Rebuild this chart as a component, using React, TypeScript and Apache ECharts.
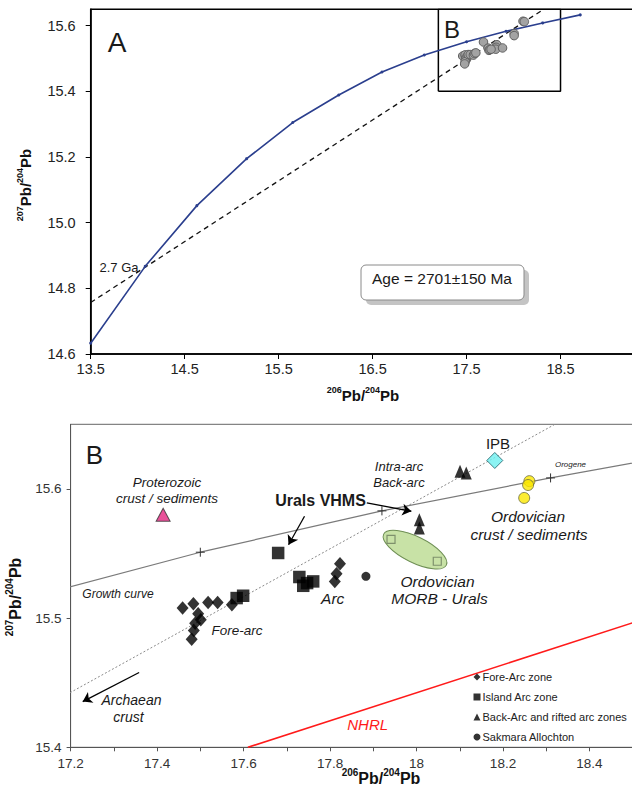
import React, { useEffect, useRef } from 'react';
import * as echarts from 'echarts';

// ---- data ----
const growthCurve = [
  [13.5, 14.633], [14.08, 14.867], [14.63, 15.052], [15.16, 15.195], [15.65, 15.305],
  [16.14, 15.389], [16.6, 15.459], [17.05, 15.511], [17.5, 15.551], [17.92, 15.583],
  [18.31, 15.6085], [18.71, 15.633],
];
const isochron = [[13.5, 14.757], [18.32, 15.65]];
const nhrl = [[17.61, 15.4], [18.5, 15.4964]];
const foreArc = [
  [17.459, 15.5078], [17.484, 15.5111], [17.495, 15.5033], [17.501, 15.4987],
  [17.488, 15.4961], [17.485, 15.4904], [17.48, 15.4837], [17.518, 15.5121],
  [17.54, 15.5121], [17.573, 15.5103], [17.823, 15.5421], [17.815, 15.5343],
  [17.811, 15.5284],
];
const islandArc = [
  [17.584, 15.5155], [17.599, 15.5173], [17.68, 15.5504], [17.729, 15.5318],
  [17.738, 15.525], [17.747, 15.5271], [17.761, 15.5284],
];
const backArc = [[18.1006, 15.6136], [18.115, 15.6124], [18.0065, 15.5762], [18.0065, 15.5698]];
const sakmara = [[17.883, 15.5323]];
const proterozoic = [[17.414, 15.58]];
const ipb = [[18.181, 15.622]];
const ordovicianCrust = [[18.261, 15.606], [18.258, 15.603], [18.249, 15.593]];
const ordovicianMorb = [[17.941, 15.561], [18.048, 15.544]];
const morbEllipseAxis = [[17.924, 15.565, 18.069, 15.541]];
const boxB = [[17.2, 15.4], [18.5, 15.4], [18.5, 15.65], [17.2, 15.65], [17.2, 15.4]];
const arrowsB = [
  [[17.3585, 15.4579], [17.228, 15.4354]],
  [[17.741, 15.5788], [17.704, 15.5568]],
  [[17.885, 15.5891], [17.988, 15.5827]],
];
const xTicksA = [13.5, 14.5, 15.5, 16.5, 17.5, 18.5];
const yTicksA = [14.6, 14.8, 15.0, 15.2, 15.4, 15.6];
const xTicksB = [17.2, 17.3, 17.4, 17.5, 17.6, 17.7, 17.8, 17.9, 18.0, 18.1, 18.2, 18.3, 18.4, 18.5];
const xLabelsB = [17.2, 17.4, 17.6, 17.8, 18, 18.2, 18.4];
const yTicksB = [15.4, 15.5, 15.6];

const SANS = "'Liberation Sans', Arial, sans-serif";

function txt(x: number, y: number, text: string, opts: any = {}) {
  return {
    type: 'text', x, y, z: 50,
    style: {
      text, fill: opts.color || '#1a1a1a', fontSize: opts.size || 13,
      fontStyle: opts.italic ? 'italic' : 'normal', fontWeight: opts.bold ? 'bold' : 'normal',
      fontFamily: opts.family || SANS, align: 'center', verticalAlign: 'middle',
    },
  };
}

function pbTitle(x: number, y: number, top: string, bottom: string, main: number, sup: number, rotate: boolean) {
  return {
    type: 'text', x, y, z: 50, rotation: rotate ? Math.PI / 2 : 0,
    style: {
      text: `{s|${top}}{m|Pb/}{s|${bottom}}{m|Pb}`,
      align: 'center', verticalAlign: 'middle',
      rich: {
        s: { fontSize: sup, fontWeight: 'bold', fontFamily: SANS, lineHeight: sup + 1, verticalAlign: 'top', fill: '#111' },
        m: { fontSize: main, fontWeight: 'bold', fontFamily: SANS, lineHeight: main + 3, verticalAlign: 'bottom', fill: '#111' },
      },
    },
  };
}

const PLUS = 'path://M0,5L10,5M5,0L5,10';

export default function App() {
  const ref = useRef<HTMLDivElement>(null);
  useEffect(() => {
    document.body.style.margin = '0';
    const chart = echarts.init(ref.current!, null, { renderer: 'svg' });
    const option: any = {
      animation: false,
      backgroundColor: '#fff',
      grid: [
        { left: 90.7, top: 9.3, width: 543.3, height: 344.7, show: true, borderColor: '#000', borderWidth: 1.5, backgroundColor: 'transparent', outerBoundsMode: 'none' },
        { left: 70.6, top: 424.3, width: 563, height: 323, show: true, borderColor: '#666', borderWidth: 1, backgroundColor: 'transparent', outerBoundsMode: 'none' },
      ],
      xAxis: [
        {
          type: 'value', gridIndex: 0, min: 13.5, max: 19.282,
          splitLine: { show: false },
          axisLine: { lineStyle: { color: '#000', width: 1.5 } },
          axisTick: { show: true, customValues: xTicksA, length: 5, lineStyle: { color: '#000' } },
          axisLabel: { customValues: xTicksA, margin: 7, fontSize: 14.5, fontFamily: SANS, color: '#222', formatter: (v: number) => v.toFixed(1) },
        },
        {
          type: 'value', gridIndex: 1, min: 17.2, max: 18.502,
          splitLine: { show: false },
          axisLine: { lineStyle: { color: '#555', width: 1 } },
          axisTick: { show: true, customValues: xTicksB, length: 4, lineStyle: { color: '#555' } },
          axisLabel: { customValues: xLabelsB, margin: 9, fontSize: 13.5, fontFamily: SANS, color: '#333', formatter: (v: number) => String(parseFloat(v.toFixed(1))) },
        },
      ],
      yAxis: [
        {
          type: 'value', gridIndex: 0, min: 14.6, max: 15.65,
          splitLine: { show: false },
          axisLine: { lineStyle: { color: '#000', width: 1.5 } },
          axisTick: { show: true, customValues: yTicksA, length: 5, lineStyle: { color: '#000' } },
          axisLabel: { customValues: yTicksA, margin: 15, fontSize: 14.5, fontFamily: SANS, color: '#222', formatter: (v: number) => v.toFixed(1) },
        },
        {
          type: 'value', gridIndex: 1, min: 15.4, max: 15.65,
          splitLine: { show: false },
          axisLine: { lineStyle: { color: '#555', width: 1 } },
          axisTick: { show: true, customValues: yTicksB, length: 4, lineStyle: { color: '#555' } },
          axisLabel: { customValues: yTicksB, margin: 9, fontSize: 13.5, fontFamily: SANS, color: '#333', formatter: (v: number) => v.toFixed(1) },
        },
      ],
      legend: {
        orient: 'vertical', left: 473.5, top: 667, itemWidth: 7, itemHeight: 7, itemGap: 0,
        selectedMode: false, padding: 0,
        textStyle: { fontSize: 11, fontFamily: SANS, color: '#222', lineHeight: 20, padding: [0, 0, 0, -3] },
        data: ['Fore-Arc zone', 'Island Arc zone', 'Back-Arc and rifted arc zones', 'Sakmara Allochton'],
      },
      series: [
        // ---- panel A ----
        {
          type: 'line', name: 'growthA', xAxisIndex: 0, yAxisIndex: 0, data: growthCurve,
          showAllSymbol: true, symbol: 'circle', symbolSize: 3, z: 4,
          itemStyle: { color: '#2b3f8e' }, lineStyle: { color: '#2b3f8e', width: 1.6 },
        },
        {
          type: 'line', name: 'isoA', xAxisIndex: 0, yAxisIndex: 0, data: isochron, symbol: 'none', z: 3,
          lineStyle: { color: '#111', width: 1.3, type: [5, 4] },
        },
        {
          type: 'line', name: 'boxA', xAxisIndex: 0, yAxisIndex: 0, data: boxB, symbol: 'none', z: 2,
          lineStyle: { color: '#000', width: 1.5 },
        },
        {
          type: 'scatter', name: 'greyA', xAxisIndex: 0, yAxisIndex: 0, z: 5,
          data: [...foreArc, ...islandArc, ...backArc, ...sakmara],
          symbol: 'circle', symbolSize: 8.5,
          itemStyle: { color: '#a3a3a3', borderColor: '#5f5f5f', borderWidth: 1, opacity: 1 },
        },
        // ---- panel B ----
        {
          type: 'line', name: 'growthB', xAxisIndex: 1, yAxisIndex: 1, data: growthCurve,
          showAllSymbol: true, symbol: PLUS, symbolSize: 9, z: 3,
          itemStyle: { color: 'none', borderColor: '#333', borderWidth: 1 },
          lineStyle: { color: '#7a7a7a', width: 1.2 },
        },
        {
          type: 'line', name: 'isoB', xAxisIndex: 1, yAxisIndex: 1, data: isochron, symbol: 'none', z: 2,
          lineStyle: { color: '#8a8a8a', width: 1, type: [2, 2] },
        },
        {
          type: 'line', name: 'nhrl', xAxisIndex: 1, yAxisIndex: 1, data: nhrl, symbol: 'none', z: 2,
          lineStyle: { color: '#ff1a1a', width: 1.6 },
        },
        {
          type: 'custom', name: 'morbEllipse', xAxisIndex: 1, yAxisIndex: 1, data: morbEllipseAxis, z: 1,
          encode: { x: [0, 2], y: [1, 3] },
          renderItem: (params: any, api: any) => {
            const p1 = api.coord([api.value(0), api.value(1)]);
            const p2 = api.coord([api.value(2), api.value(3)]);
            const cx = (p1[0] + p2[0]) / 2;
            const cy = (p1[1] + p2[1]) / 2;
            const dx = p2[0] - p1[0];
            const dy = p2[1] - p1[1];
            const rx = Math.hypot(dx, dy) / 2;
            return {
              type: 'ellipse', x: cx, y: cy, rotation: -Math.atan2(dy, dx),
              shape: { cx: 0, cy: 0, rx, ry: rx * 0.37 },
              style: { fill: '#c8e2a6', stroke: '#6f8f55', lineWidth: 1 },
            };
          },
        },
        {
          type: 'scatter', name: 'morbSq', xAxisIndex: 1, yAxisIndex: 1, data: ordovicianMorb, z: 3,
          symbol: 'rect', symbolSize: 8,
          itemStyle: { color: 'rgba(0,0,0,0)', borderColor: '#6b7d5e', borderWidth: 1.2 },
        },
        {
          type: 'scatter', name: 'Fore-Arc zone', xAxisIndex: 1, yAxisIndex: 1, data: foreArc, z: 5,
          symbol: 'diamond', symbolSize: [12, 13.5], itemStyle: { color: '#000' },
        },
        {
          type: 'scatter', name: 'Island Arc zone', xAxisIndex: 1, yAxisIndex: 1, data: islandArc, z: 5,
          symbol: 'rect', symbolSize: 12.5, itemStyle: { color: '#000' },
        },
        {
          type: 'scatter', name: 'Back-Arc and rifted arc zones', xAxisIndex: 1, yAxisIndex: 1, data: backArc, z: 5,
          symbol: 'triangle', symbolSize: [11, 13], itemStyle: { color: '#000' },
        },
        {
          type: 'scatter', name: 'Sakmara Allochton', xAxisIndex: 1, yAxisIndex: 1, data: sakmara, z: 5,
          symbol: 'circle', symbolSize: 9, itemStyle: { color: '#000' },
        },
        {
          type: 'line', name: 'arrows', xAxisIndex: 1, yAxisIndex: 1, data: [], z: 6,
          markLine: {
            silent: true, symbol: ['none', 'arrow'], symbolSize: 9, precision: 4,
            label: { show: false }, emphasis: { disabled: true },
            lineStyle: { color: '#000', width: 1.3, type: 'solid' },
            data: arrowsB.map((a) => [{ coord: a[0] }, { coord: a[1] }]),
          },
        },
        {
          type: 'scatter', name: 'proterozoic', xAxisIndex: 1, yAxisIndex: 1, data: proterozoic, z: 5,
          symbol: 'triangle', symbolSize: [14, 13],
          itemStyle: { color: '#e3267f', borderColor: '#333', borderWidth: 1 },
        },
        {
          type: 'scatter', name: 'ipb', xAxisIndex: 1, yAxisIndex: 1, data: ipb, z: 5,
          symbol: 'diamond', symbolSize: 16,
          itemStyle: { color: '#6ef0f0', borderColor: '#1d5f66', borderWidth: 1 },
        },
        {
          type: 'scatter', name: 'ordCrust', xAxisIndex: 1, yAxisIndex: 1, data: ordovicianCrust, z: 5,
          symbol: 'circle', symbolSize: 11,
          itemStyle: { color: '#fbe700', borderColor: '#6a6a40', borderWidth: 1 },
        },
      ],
      graphic: [
        // panel A
        txt(117, 42, 'A', { size: 28 }),
        txt(452, 29, 'B', { size: 24 }),
        txt(119, 267, '2.7 Ga', { size: 13 }),
        { type: 'rect', z: 40, shape: { x: 366, y: 270, width: 163, height: 35, r: 5 }, style: { fill: '#c4c4c4' } },
        { type: 'rect', z: 41, shape: { x: 361, y: 265, width: 163, height: 35, r: 5 }, style: { fill: '#fff', stroke: '#8a8a8a', lineWidth: 1 } },
        txt(442, 278, 'Age = 2701±150 Ma', { size: 15.5 }),
        pbTitle(363, 394, '206', '204', 15, 9, false),
        pbTitle(24, 185, '207', '204', 15, 9, true),
        // panel B
        txt(94.5, 455, 'B', { size: 26 }),
        txt(167, 482, 'Proterozoic', { size: 13.5, italic: true }),
        txt(167, 498.5, 'crust / sediments', { size: 13.5, italic: true }),
        txt(399, 466, 'Intra-arc', { size: 13, italic: true }),
        txt(399, 482.5, 'Back-arc', { size: 13, italic: true }),
        txt(498, 443.5, 'IPB', { size: 15 }),
        txt(570.5, 464, 'Orogene', { size: 8, italic: true }),
        txt(320.5, 500, 'Urals VHMS', { size: 16, bold: true }),
        txt(528, 516, 'Ordovician', { size: 15.5, italic: true }),
        txt(529, 534, 'crust / sediments', { size: 15.5, italic: true }),
        txt(437.5, 581, 'Ordovician', { size: 15.5, italic: true }),
        txt(439.5, 598.5, 'MORB - Urals', { size: 15.5, italic: true }),
        txt(332.7, 598.5, 'Arc', { size: 15.5, italic: true }),
        txt(237, 630, 'Fore-arc', { size: 13.5, italic: true }),
        txt(118, 593.5, 'Growth curve', { size: 12, italic: true }),
        txt(367.7, 724, 'NHRL', { size: 15, italic: true, color: '#ff1a1a' }),
        txt(131.5, 700, 'Archaean', { size: 14, italic: true }),
        txt(128.5, 717, 'crust', { size: 14, italic: true }),
        pbTitle(381, 777, '206', '204', 16, 10, false),
        pbTitle(14, 597, '207', '204', 16, 10, true),
      ],
    };
    chart.setOption(option);
    return () => chart.dispose();
  }, []);
  return <div ref={ref} style={{ position: 'absolute', left: 0, top: 0, width: 632, height: 787 }} />;
}
